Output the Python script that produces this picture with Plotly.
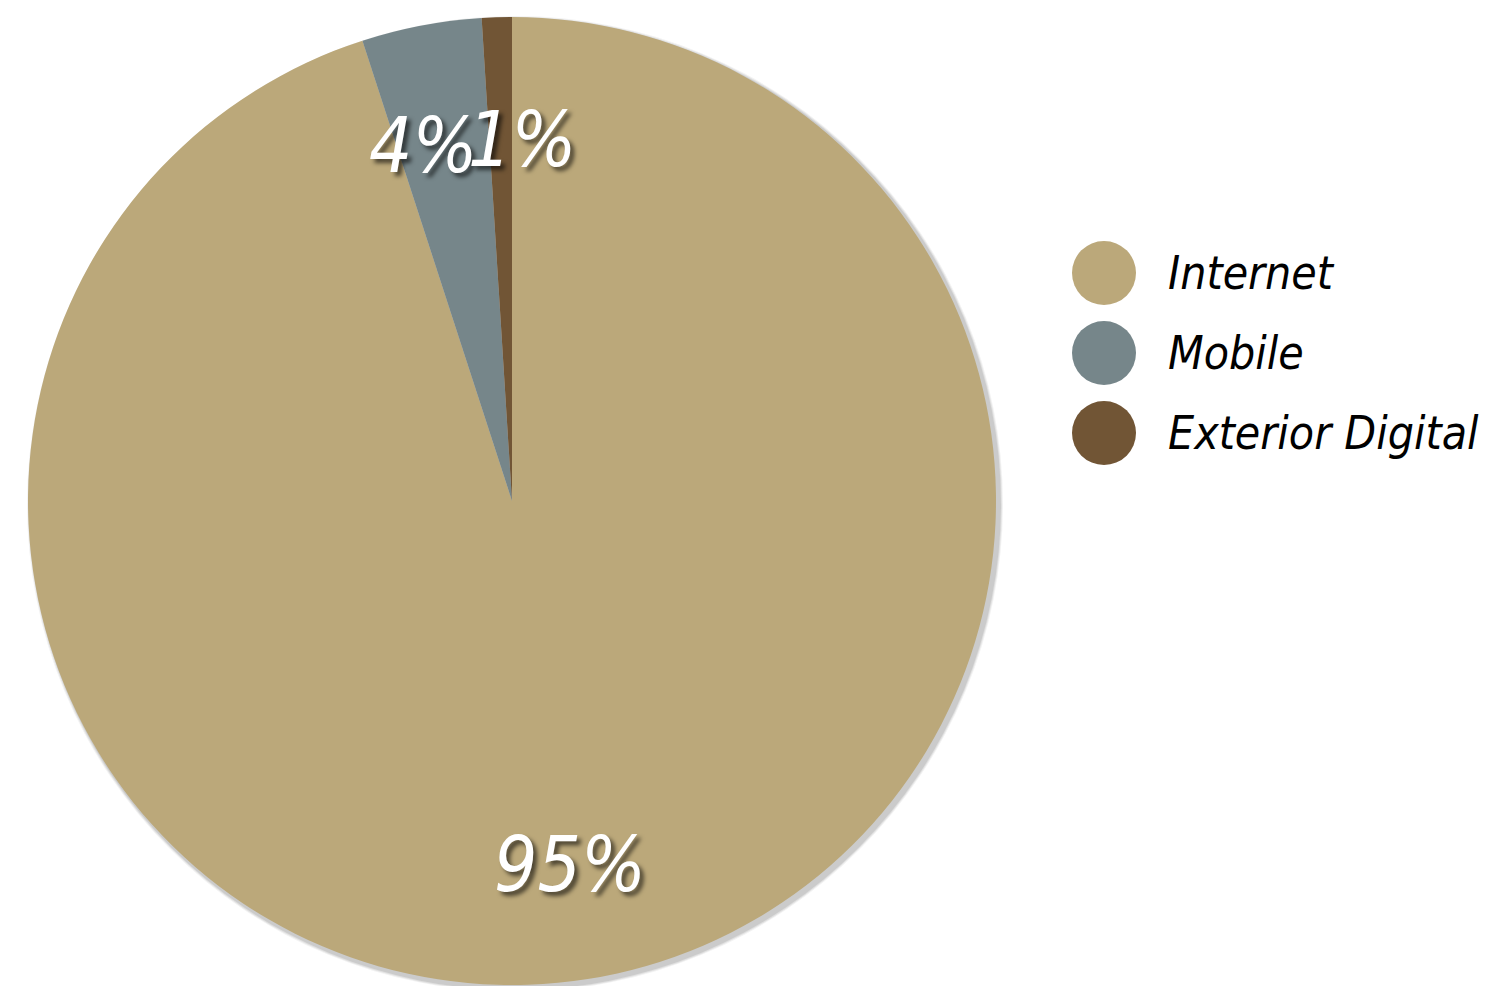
import math
import plotly.graph_objects as go

categories = ["Internet", "Mobile", "Exterior Digital"]
values = [95, 4, 1]
colors = ["#bba87a", "#76868a", "#715535"]

W, H = 1501, 986
FONT = "DejaVu Sans Condensed, Liberation Sans Narrow, sans-serif"

# pie geometry in pixels (layout only)
cx_px, cy_px, r_px = 512, 501, 484
dom_x = [(cx_px - r_px) / W, (cx_px + r_px) / W]
dom_y = [1 - (cy_px + r_px) / H, 1 - (cy_px - r_px) / H]

fig = go.Figure()
fig.add_trace(go.Pie(
    labels=categories, values=values, sort=False, direction="clockwise", rotation=0,
    marker=dict(colors=colors, line=dict(width=0)),
    textinfo="none", hoverinfo="label+percent", showlegend=False,
    domain=dict(x=dom_x, y=dom_y),
))

# soft shadow behind the pie
for i, a in enumerate([0.05, 0.07, 0.09]):
    g = 4 - i
    fig.add_shape(type="circle", xref="paper", yref="paper", layer="below",
                  x0=(cx_px - r_px - g + 3) / W, x1=(cx_px + r_px + g + 3) / W,
                  y0=1 - (cy_px + r_px + g + 3) / H, y1=1 - (cy_px - r_px - g + 3) / H,
                  fillcolor=f"rgba(0,0,0,{a})", line=dict(width=0))

# percentage labels at slice mid-angles
total = sum(values)
cum = 0
label_r = 0.76
nudges = {1: -20, 2: 22}
for i, v in enumerate(values):
    mid = (cum + v / 2) / total * 2 * math.pi
    cum += v
    px = cx_px + label_r * r_px * math.sin(mid) + nudges.get(i, 0)
    py = cy_px - label_r * r_px * math.cos(mid) + (6 if i else 0)
    fig.add_annotation(x=px / W, y=1 - py / H, xref="paper", yref="paper",
                       text=f"<i>{round(v / total * 100)}%</i>", showarrow=False,
                       xanchor="center", yanchor="middle",
                       font=dict(family=FONT, size=76, color="white",
                                 shadow="4px 4px 4px rgba(0,0,0,0.6)"))

# custom legend with circular markers
leg_x, leg_y0, leg_dy, dot_r = 1104, 273, 80, 32
for i, (c, col) in enumerate(zip(categories, colors)):
    y = leg_y0 + i * leg_dy
    fig.add_shape(type="circle", xref="paper", yref="paper",
                  x0=(leg_x - dot_r) / W, x1=(leg_x + dot_r) / W,
                  y0=1 - (y + dot_r) / H, y1=1 - (y - dot_r) / H,
                  fillcolor=col, line=dict(width=0))
    fig.add_annotation(x=1166 / W, y=1 - y / H, xref="paper", yref="paper",
                       text=f"<i>{c}</i>", showarrow=False, xanchor="left", yanchor="middle",
                       font=dict(family=FONT, size=46, color="black"))

fig.update_layout(width=W, height=H, margin=dict(l=0, r=0, t=0, b=0),
                  paper_bgcolor="white", plot_bgcolor="white", showlegend=False)
fig.write_html("out.html", config={"displayModeBar": False},
               post_script="document.body.style.margin='0';document.body.style.overflow='hidden';")
